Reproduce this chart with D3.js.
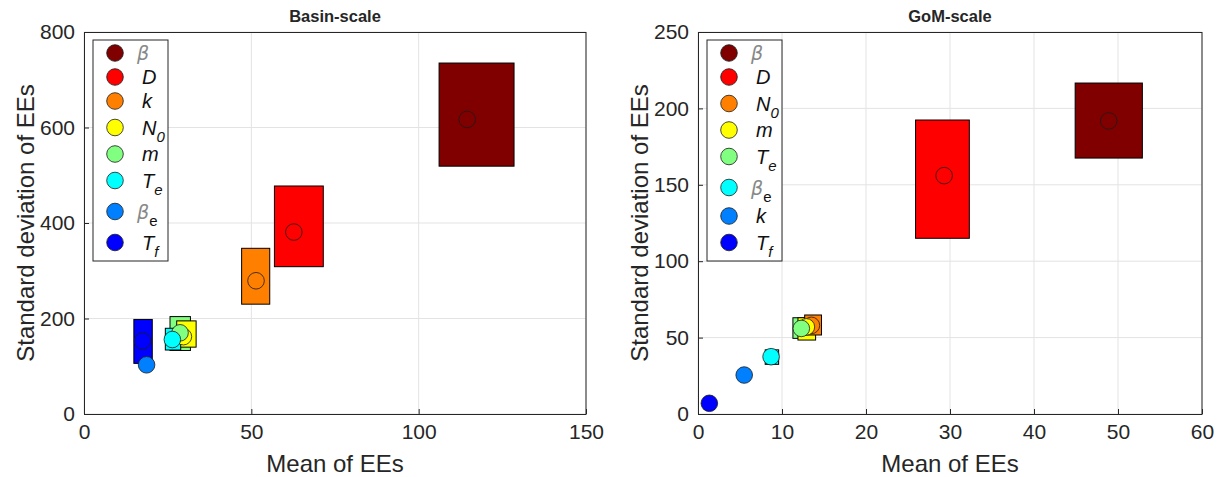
<!DOCTYPE html>
<html lang="en">
<head>
<meta charset="utf-8">
<title>Elementary effects</title>
<script src="https://cdn.jsdelivr.net/npm/d3@7"></script>
<style>
  body { margin: 0; background: #fff; }
  text { font-family: "Liberation Sans", Arial, Helvetica, sans-serif; fill: #262626; }
</style>
</head>
<body>
<script>
// ---- data ----
var colors = ["#800000", "#ff0000", "#ff8000", "#ffff00", "#80ff80", "#00ffff", "#0080ff", "#0000ff"];

// Basin-scale
var basinNames = [["β", ""], ["D", ""], ["k", ""], ["N", "0"], ["m", ""], ["T", "e"], ["β", "e"], ["T", "f"]];
var basinMean  = [114.5, 62.7, 51.4, 29.7, 28.7, 26.4, 18.7, 17.5];
var basinSd    = [617, 381, 279, 162, 170, 156, 103, 153];
var basinMeanLo = [106.1, 56.9, 47.1, 27.7, 25.7, 24.3, 18.5, 14.9];
var basinMeanHi = [128.5, 71.5, 55.5, 33.5, 31.8, 28.9, 18.9, 20.4];
var basinSdLo  = [519, 308.5, 230, 140, 133, 134, 101, 106];
var basinSdHi  = [735, 477.5, 347, 195, 204, 179.5, 104, 198];
var basinXTicks = [0, 50, 100, 150];
var basinYTicks = [0, 200, 400, 600, 800];

// GoM-scale
var gomNames = [["β", ""], ["D", ""], ["N", "0"], ["m", ""], ["T", "e"], ["β", "e"], ["k", ""], ["T", "f"]];
var gomMean  = [48.9, 29.3, 13.5, 12.9, 12.3, 8.7, 5.5, 1.35];
var gomSd    = [191.8, 156, 58, 57, 56, 37.5, 25.5, 7];
var gomMeanLo = [44.9, 25.9, 12.7, 11.9, 11.3, 8.0, 5.3, 1.2];
var gomMeanHi = [52.9, 32.3, 14.7, 14.0, 13.2, 9.6, 5.7, 1.5];
var gomSdLo  = [167.5, 115, 51.7, 48.4, 49.5, 32.5, 25, 6.8];
var gomSdHi  = [216.6, 192.4, 64.8, 63, 63, 42, 26, 7.2];
var gomXTicks = [0, 10, 20, 30, 40, 50, 60];
var gomYTicks = [0, 50, 100, 150, 200, 250];

var W = 1220, H = 477;
var svg = d3.select("body").append("svg").attr("width", W).attr("height", H);

function panel(opt) {
  var x = d3.scaleLinear().domain(opt.xDom).range([opt.x0, opt.x1]);
  var y = d3.scaleLinear().domain(opt.yDom).range([414, 32]);
  var g = svg.append("g");

  // grid
  g.selectAll(".gx").data(opt.xTicks).enter().append("line")
    .attr("x1", d => x(d)).attr("x2", d => x(d)).attr("y1", 32).attr("y2", 414)
    .attr("stroke", "#e3e3e3").attr("stroke-width", 1);
  g.selectAll(".gy").data(opt.yTicks).enter().append("line")
    .attr("y1", d => y(d)).attr("y2", d => y(d)).attr("x1", opt.x0).attr("x2", opt.x1)
    .attr("stroke", "#e3e3e3").attr("stroke-width", 1);

  // axes (ticks inward)
  var xa = g.append("g").attr("transform", "translate(0,414)")
    .call(d3.axisBottom(x).tickValues(opt.xTicks).tickSizeInner(-5).tickSizeOuter(0).tickPadding(10));
  var ya = g.append("g").attr("transform", "translate(" + opt.x0 + ",0)")
    .call(d3.axisLeft(y).tickValues(opt.yTicks).tickSizeInner(-5).tickSizeOuter(0).tickPadding(9));
  [xa, ya].forEach(function(a) {
    a.select(".domain").attr("stroke", "#262626").attr("stroke-width", 1);
    a.selectAll(".tick line").attr("stroke", "#262626");
    a.selectAll(".tick text").attr("font-size", 21).attr("fill", "#262626")
      .style("font-family", "'Liberation Sans', Arial, sans-serif");
  });
  // box top/right
  g.append("line").attr("x1", opt.x0).attr("x2", opt.x1).attr("y1", 32.5).attr("y2", 32.5).attr("stroke", "#262626");
  g.append("line").attr("x1", opt.x1).attr("x2", opt.x1).attr("y1", 32).attr("y2", 414).attr("stroke", "#262626");

  // boxes then markers
  var idx = d3.range(opt.mean.length);
  g.selectAll(".box").data(opt.rectOrder).enter().append("rect")
    .attr("x", i => x(opt.mLo[i])).attr("width", i => x(opt.mHi[i]) - x(opt.mLo[i]))
    .attr("y", i => y(opt.sHi[i])).attr("height", i => y(opt.sLo[i]) - y(opt.sHi[i]))
    .attr("fill", i => colors[i]).attr("stroke", "#000").attr("stroke-width", 1);
  g.selectAll(".pt").data(idx).enter().append("circle")
    .attr("cx", i => x(opt.mean[i])).attr("cy", i => y(opt.sd[i])).attr("r", 8.3)
    .attr("fill", i => colors[i]).attr("stroke", "#1a1a1a").attr("stroke-width", 0.8);

  // title and labels
  svg.append("text").attr("x", (opt.x0 + opt.x1) / 2).attr("y", 22).attr("text-anchor", "middle")
    .attr("font-size", 16.5).attr("font-weight", "bold").attr("fill", "#000").text(opt.title);
  svg.append("text").attr("x", (opt.x0 + opt.x1) / 2).attr("y", 472).attr("text-anchor", "middle")
    .attr("font-size", 24).text("Mean of EEs");
  svg.append("text").attr("transform", "translate(" + opt.ylabX + ",223) rotate(-90)")
    .attr("text-anchor", "middle").attr("font-size", 24).text("Standard deviation of EEs");

  // legend
  var hs = opt.names.map(function(n) { return n[1] ? (n[0] === "β" ? 33 : 29) : 24; });
  var ys = [], cy = 41 + hs[0] / 2;
  hs.forEach(function(h, i) { if (i > 0) cy += (hs[i - 1] + h) / 2; ys.push(cy); });
  var lx = opt.x0 + 9;
  var lg = svg.append("g");
  lg.append("rect").attr("x", lx).attr("y", 40).attr("width", 75)
    .attr("height", ys[ys.length - 1] + hs[hs.length - 1] / 2 + 4 - 40)
    .attr("fill", "#fff").attr("stroke", "#262626").attr("stroke-width", 1);
  opt.names.forEach(function(n, i) {
    lg.append("circle").attr("cx", lx + 22).attr("cy", ys[i]).attr("r", 8.3)
      .attr("fill", colors[i]).attr("stroke", "#1a1a1a").attr("stroke-width", 0.8);
    var isB = n[0] === "β";
    var t = lg.append("text").attr("x", lx + (isB ? 44 : 49)).attr("y", ys[i] + 7).attr("font-size", 20);
    t.append("tspan").text(n[0])
      .attr("font-style", "italic")
      .attr("fill", isB ? "#888" : "#111")
      .style("font-family", isB ? "'DejaVu Sans', sans-serif" : null)
      .style("font-weight", isB ? 300 : null)
      .attr("font-size", isB ? 19 : 20);
    if (n[1]) {
      t.append("tspan").text(n[1]).attr("dy", 7).attr("font-size", 15)
        .attr("font-style", n[1] === "e" && isB ? "normal" : "italic").attr("fill", "#111");
    }
  });
}

panel({
  title: "Basin-scale", x0: 84, x1: 586, xDom: [0, 150], yDom: [0, 800], ylabX: 34,
  xTicks: basinXTicks, yTicks: basinYTicks, names: basinNames,
  mean: basinMean, sd: basinSd, mLo: basinMeanLo, mHi: basinMeanHi, sLo: basinSdLo, sHi: basinSdHi,
  rectOrder: [0, 1, 2, 4, 3, 5, 7, 6]
});
panel({
  title: "GoM-scale", x0: 698, x1: 1202, xDom: [0, 60], yDom: [0, 250], ylabX: 648,
  xTicks: gomXTicks, yTicks: gomYTicks, names: gomNames,
  mean: gomMean, sd: gomSd, mLo: gomMeanLo, mHi: gomMeanHi, sLo: gomSdLo, sHi: gomSdHi,
  rectOrder: [0, 1, 4, 3, 2, 5, 6, 7]
});
</script>
</body>
</html>
